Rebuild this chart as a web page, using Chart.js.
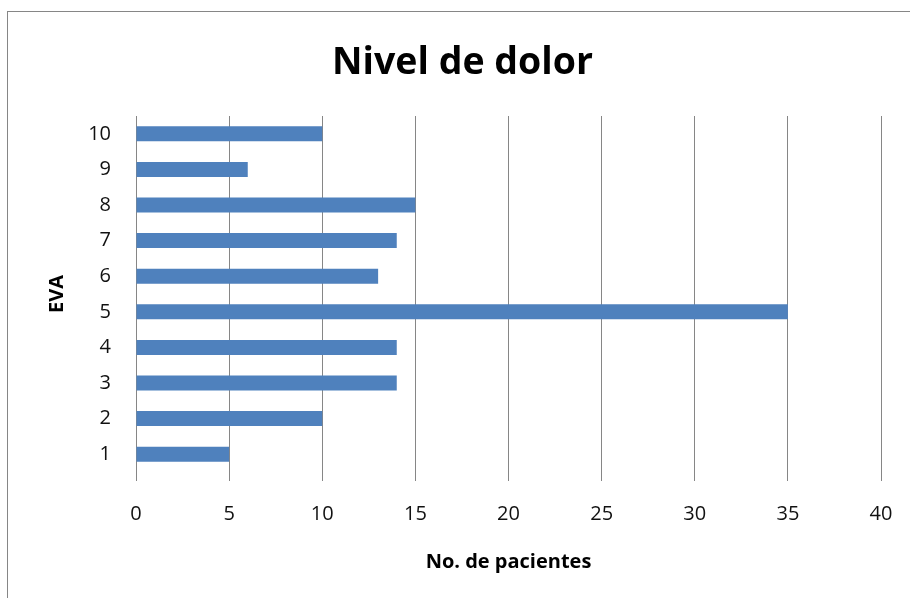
<!DOCTYPE html>
<html>
<head>
<meta charset="utf-8">
<script src="https://cdn.jsdelivr.net/npm/chart.js@4/dist/chart.umd.min.js"></script>
<style>
    html, body { margin: 0; padding: 0; background: #fff; }
    #wrap { position: relative; width: 910px; height: 598px; overflow: hidden; }
    #frame {
        position: absolute; left: 7px; top: 11px; width: 950px; height: 650px;
        border-left: 1px solid #868686; border-top: 1px solid #868686;
        pointer-events: none;
    }
</style>
</head>
<body>
<div id="wrap">
    <canvas id="chart" width="910" height="598"></canvas>
    <div id="frame"></div>
</div>
<script>
// Nivel de dolor (EVA) vs no. de pacientes
const categories = ['1', '2', '3', '4', '5', '6', '7', '8', '9', '10'];
const patients = [5, 10, 14, 14, 35, 13, 14, 15, 6, 10];
const xTicks = [0, 5, 10, 15, 20, 25, 30, 35, 40];

const FONT = '"Open Sans", "Liberation Sans", sans-serif';
const GRID = '#868686';

const ctx = document.getElementById('chart');

new Chart(ctx, {
    type: 'bar',
    data: {
        labels: categories,
        datasets: [{
            label: 'No. de pacientes',
            data: patients,
            backgroundColor: '#4F81BD',
            borderWidth: 0,
            categoryPercentage: 1,
            barPercentage: 0.42
        }]
    },
    options: {
        indexAxis: 'y',
        responsive: false,
        animation: false,
        layout: { padding: { left: 15, right: 0, top: 0, bottom: 0 } },
        plugins: {
            legend: { display: false },
            tooltip: { enabled: false },
            title: {
                display: true,
                text: 'Nivel de dolor',
                color: '#000',
                font: { family: FONT, size: 37.5, weight: 'bold', lineHeight: 1.2 },
                padding: { top: 41, bottom: 30 }
            }
        },
        scales: {
            x: {
                min: 0,
                max: 40,
                afterBuildTicks(scale) {
                    scale.ticks = xTicks.map(v => ({ value: v }));
                },
                afterFit(scale) {
                    scale.height = 126;
                    // don't let the edge labels push the plot inwards
                    scale.paddingLeft = 0;
                    scale.paddingRight = 0;
                },
                grid: { color: GRID, lineWidth: 1, drawTicks: true, tickLength: 9, tickColor: GRID },
                border: { display: false },
                ticks: {
                    color: '#111',
                    font: { family: FONT, size: 20 },
                    padding: 21,
                    maxRotation: 0
                },
                title: {
                    display: true,
                    text: 'No. de pacientes',
                    color: '#000',
                    font: { family: FONT, size: 20, weight: 'bold', lineHeight: 1.2 },
                    padding: { top: 0, bottom: 24 }
                }
            },
            y: {
                reverse: true,
                afterFit(scale) { scale.width = 121; },
                grid: { display: false, drawTicks: false },
                border: { display: false },
                ticks: {
                    color: '#111',
                    font: { family: FONT, size: 20 },
                    padding: 25
                },
                title: {
                    display: true,
                    text: 'EVA',
                    color: '#000',
                    font: { family: FONT, size: 20, weight: 'bold', lineHeight: 1.2 },
                    padding: { top: 30, bottom: 0 }
                }
            },
            // empty right-hand box so the plot ends where the reference does
            spacer: {
                axis: 'y',
                position: 'right',
                display: true,
                afterFit(scale) { scale.width = 29; },
                grid: { display: false, drawTicks: false },
                border: { display: false },
                ticks: { display: false }
            }
        }
    }
});
</script>
</body>
</html>
